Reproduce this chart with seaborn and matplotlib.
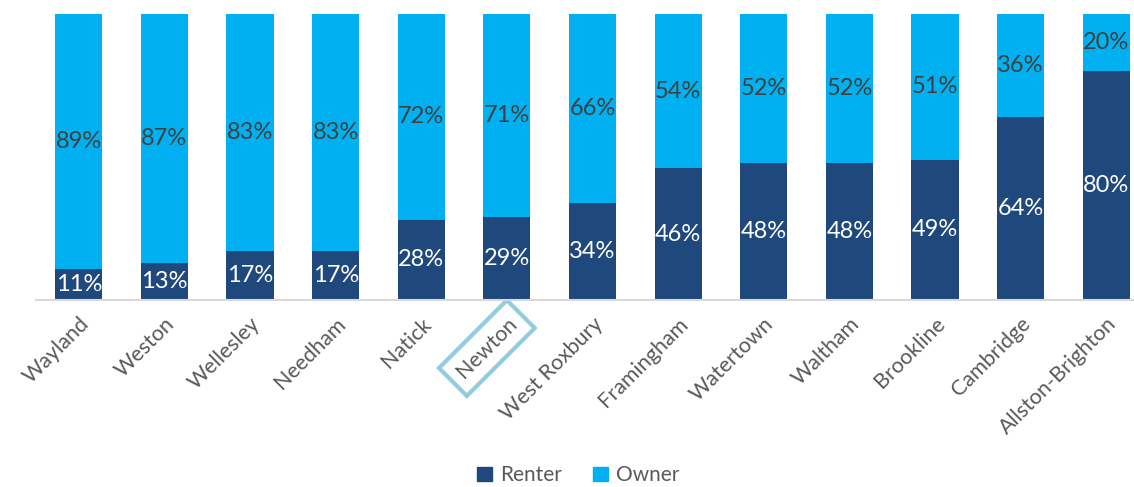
import matplotlib
matplotlib.use("Agg")
import matplotlib.pyplot as plt
import seaborn as sns
import pandas as pd
from matplotlib.patches import Patch

cities = ["Wayland", "Weston", "Wellesley", "Needham", "Natick", "Newton", "West Roxbury",
          "Framingham", "Watertown", "Waltham", "Brookline", "Cambridge", "Allston-Brighton"]
renter = [11, 13, 17, 17, 28, 29, 34, 46, 48, 48, 49, 64, 80]
owner = [89, 87, 83, 83, 72, 71, 66, 54, 52, 52, 51, 36, 20]
highlight = "Newton"

RENTER_C = "#1F497D"
OWNER_C = "#00B0F0"

sns.set_theme(style="white")
plt.rcParams["font.family"] = ["Lato", "DejaVu Sans"]

df = pd.DataFrame({"city": cities, "renter": renter, "owner": owner})
df["total"] = df["renter"] + df["owner"]

fig = plt.figure(figsize=(11.34, 4.87), dpi=100)
ax = fig.add_axes([36 / 1134, 1 - 300 / 487, 1 - 36 / 1134, (300 - 14) / 487])

sns.barplot(data=df, x="city", y="total", color=OWNER_C, width=0.55, ax=ax,
            saturation=1, linewidth=0)
sns.barplot(data=df, x="city", y="renter", color=RENTER_C, width=0.55, ax=ax,
            saturation=1, linewidth=0)

for i, (r, o) in enumerate(zip(renter, owner)):
    ax.text(i, r / 2, f"{r}%", ha="center", va="center", color="white", fontsize=17)
    ax.text(i, r + o / 2, f"{o}%", ha="center", va="center", color="#404040", fontsize=17)

ax.set_ylim(0, 100)
ax.set_xlim(-0.5, 12.5 - 15 / 85.6)
ax.set_yticks([])
ax.set_xlabel("")
ax.set_ylabel("")
for s in ["top", "right", "left"]:
    ax.spines[s].set_visible(False)
ax.spines["bottom"].set_color("#D9D9D9")
ax.spines["bottom"].set_linewidth(1.5)

ax.set_xticks(range(len(cities)))
ax.set_xticklabels(cities, rotation=45, ha="right", rotation_mode="anchor",
                   fontsize=15.5, color="#595959")
ax.tick_params(axis="x", length=0, pad=10)
for lab in ax.get_xticklabels():
    if lab.get_text() == highlight:
        lab.set_bbox(dict(boxstyle="square,pad=0.45", fc="none", ec="#92CDDC", lw=3))

handles = [Patch(color=RENTER_C, label="Renter"), Patch(color=OWNER_C, label="Owner")]
fig.legend(handles=handles, loc="lower center", bbox_to_anchor=(0.51, -0.035), ncol=2,
           frameon=False, fontsize=15, handlelength=0.7, handleheight=0.7,
           handletextpad=0.4, columnspacing=1.5, labelcolor="#595959")

fig.savefig("out.png", dpi=100)
